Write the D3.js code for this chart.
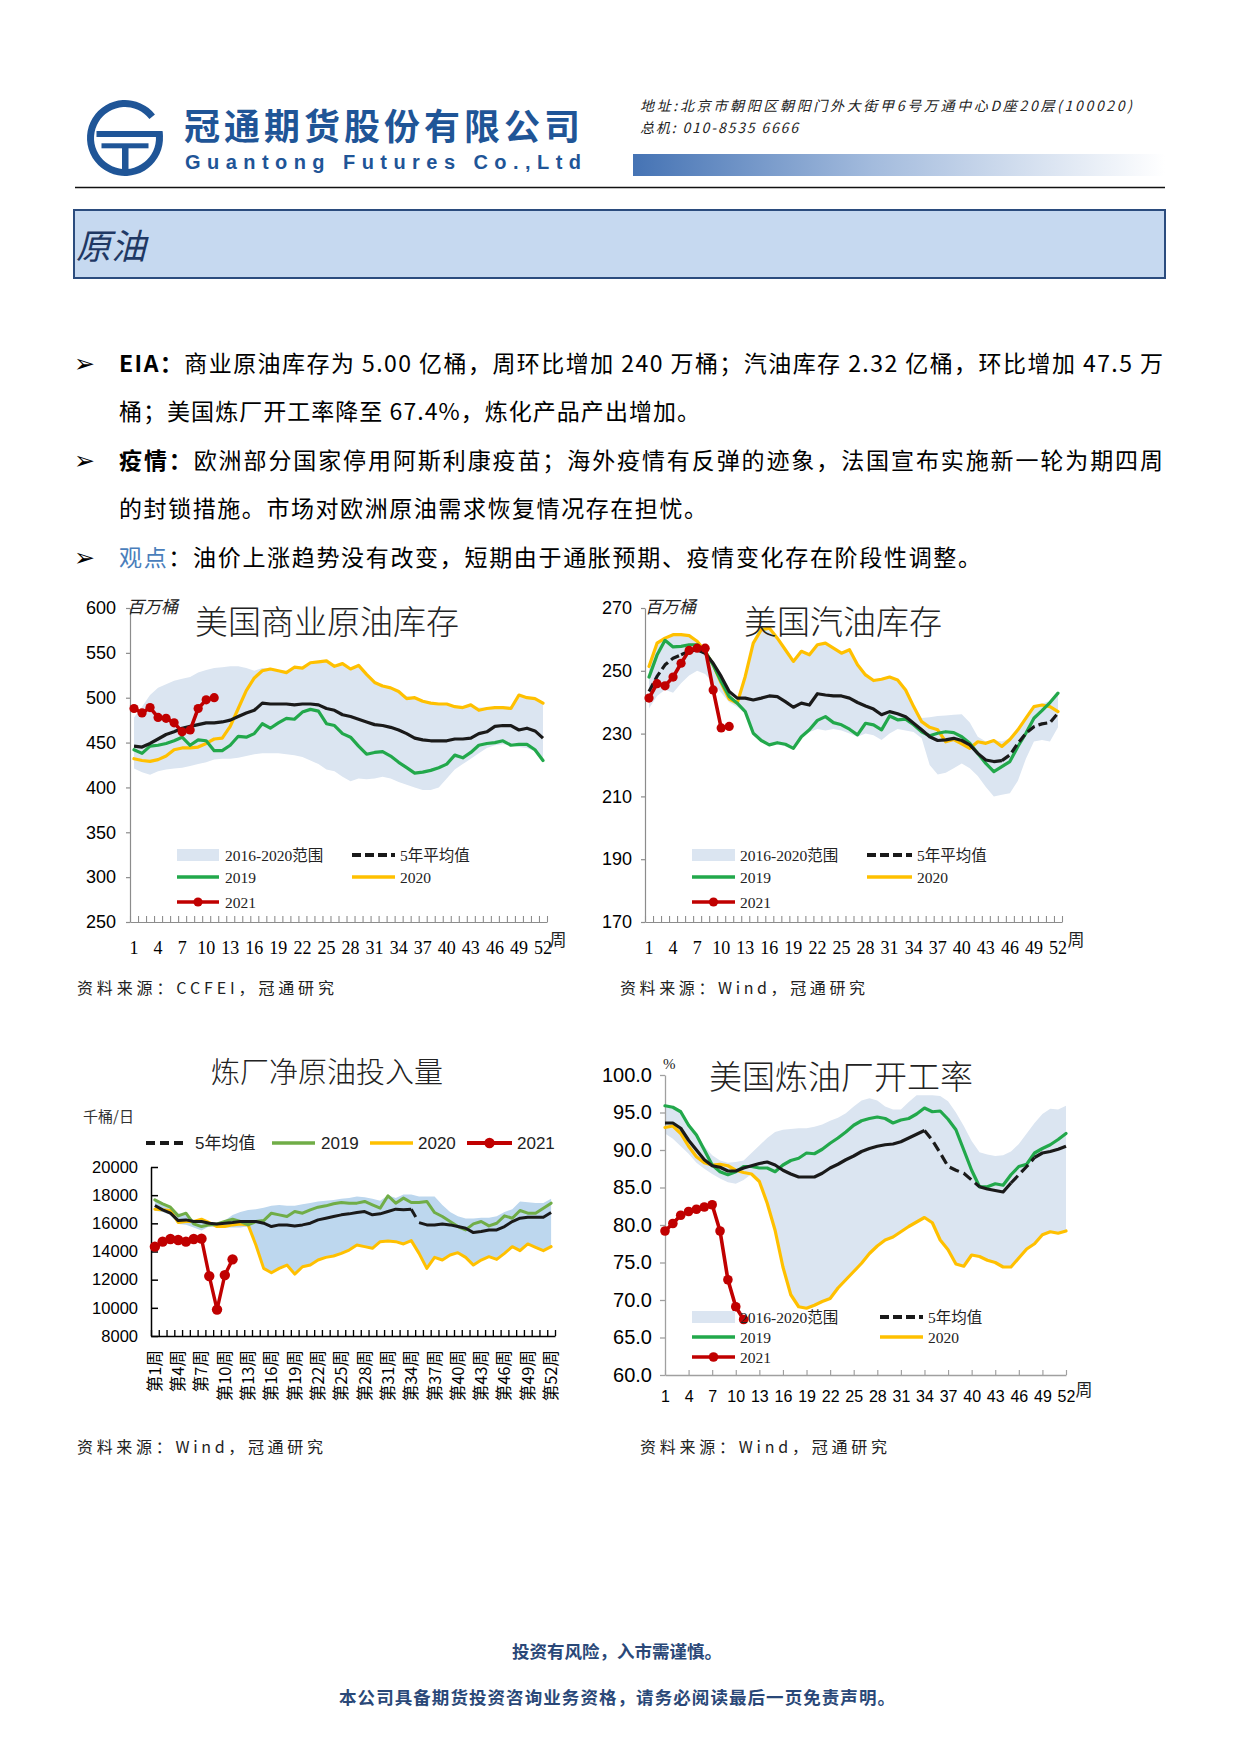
<!DOCTYPE html>
<html><head><meta charset="utf-8">
<script src="https://cdn.jsdelivr.net/npm/d3@7"></script>
<style>body{margin:0;background:#fff}svg{display:block}</style>
</head><body>
<svg id="page" width="1241" height="1754"></svg>
<script>
// ---------------- DATA ----------------
const weeks = [1,2,3,4,5,6,7,8,9,10,11,12,13,14,15,16,17,18,19,20,21,22,23,24,25,26,27,28,29,30,31,32,33,34,35,36,37,38,39,40,41,42,43,44,45,46,47,48,49,50,51,52];
const xTickWeeks = [1,4,7,10,13,16,19,22,25,28,31,34,37,40,43,46,49,52];

// US commercial crude inventory (million bbl)
const crudeYTicks = [250,300,350,400,450,500,550,600];
const crudeHi = [478,490,503,511,515,519,521,523,528,531,533,534,535,535,533,530,533,533,531,530,535,533,539,540,541,536,538,533,536,526,517,514,511,507,502,500,497,495,494,494,491,490,492,489,489,490,490,490,504,501,500,495];
const crudeLo = [421,417,414,418,420,421,422,424,426,428,431,432,432,433,435,437,438,438,438,437,436,434,430,426,420,418,412,407,410,409,410,412,410,406,403,400,397,397,400,410,420,426,432,438,444,447,448,447,445,444,440,428];
const crudeAvg = [446,445,449,454,459,462,466,468,470,472,472,473,475,479,483,486,494,493,493,493,492,493,493,492,488,486,481,479,476,473,470,469,467,464,460,455,453,452,452,452,454,454,455,460,462,468,469,469,464,466,463,455];
const crude2019 = [442,438,446,447,449,452,456,447,453,452,441,441,447,457,456,460,471,466,472,477,476,484,487,485,471,469,460,456,446,437,439,440,435,428,422,416,417,419,422,426,436,433,439,447,449,450,452,447,448,448,442,430];
const crude2020 = [432,430,429,431,435,442,444,444,445,449,454,455,468,488,508,522,530,532,530,528,534,533,539,540,541,535,538,532,536,526,517,513,511,507,499,500,496,494,493,493,490,489,492,486,488,489,489,488,503,500,499,494];
const crude2021 = [488,483,489,478,477,472,462,464,488,497.6,500];

// US gasoline inventory (million bbl)
const gasYTicks = [170,190,210,230,250,270];
const gasHi = [251.5,258.8,260.4,261.5,261.5,261.2,259.4,257.6,252.4,247.1,242,240.5,248.2,258.8,263.1,263.6,260.4,256.7,253,256.2,255.1,258.3,258.8,257.2,255.6,256.7,251.9,248.7,246.9,247.3,248,247.1,243.9,238.6,235,235.2,235.6,235.8,236,236.2,233.5,229,227.5,228,227.5,228.5,231.5,235,238.6,239.5,240.5,243];
const gasLo = [238,242,244,243,246,248.5,250,249,246,243,240,238.5,236.5,230,227.5,226,226.5,226,225,228.5,230.5,231.5,231,231.5,231,230,229,230,229.5,228,230,231.5,231,230.5,228.5,220,217,217.5,219,220.5,219,216.5,213,210,210.5,211,215,222,227.5,228,227.5,232];
const gasAvg = [243.4,248.2,251.9,254,255.1,256.2,256.7,255.6,252.4,248.2,243.4,241.3,241.3,240.7,241.3,242,241.8,240.2,238.4,239.7,239.1,242.7,242.3,242,242,241.3,239.9,238.8,237.8,236,237,236.3,235.4,233.3,231.2,229,227.8,228,228.5,227.8,226.4,223.7,221.6,221.1,221.4,223.2,226.9,230.1,232.2,233.1,233.5,236.5];
const gas2019 = [248,255,259.7,257.6,257.8,258.3,258.3,256.2,251.9,246.6,241.8,239.7,237,230.1,227.8,226.4,227.1,226.6,225.3,229,231.2,234.2,235.4,233.5,232.8,231.4,229.6,233.3,232.8,231.2,235.6,234.4,234.6,232.8,230.6,229.3,230.1,230.6,230.3,229,226.9,223.7,220.5,217.9,219.5,221.1,225.9,230.1,234.9,237.3,239.9,242.9];
const gas2020 = [251.4,258.8,260.4,261.5,261.5,261.2,259.4,256.2,251.9,246.1,241,239.7,248.2,258.8,263.1,263.6,260.4,256.7,253,256.2,255.1,258.3,258.8,257.2,255.6,256.7,251.9,248.7,246.9,247.3,248,247.1,243.9,238.6,233.8,232,231.2,227.4,228.1,226.7,225.3,227.4,226.9,227.8,225.9,228.1,231.2,234.9,238.6,239.1,238.6,237];
const gas2021 = [241.3,245.9,245.2,248,252.4,256.5,257.2,257.2,243.9,231.8,232.3];

// Refinery net crude input (kb/d)
const inputYTicks = [8000,10000,12000,14000,16000,18000,20000];
const inputHi = [17700,17400,17200,16700,16700,16200,16300,16100,16000,16200,16600,16800,16950,17000,17100,17250,17300,17250,17250,17350,17450,17550,17600,17650,17750,17800,17900,17850,17750,17600,18000,17800,18050,18050,17900,17900,17900,17300,16800,16500,16350,16350,16400,16400,16500,16800,17000,17550,17500,17450,17450,17750];
const inputLo = [16900,16800,16600,15950,15900,15700,15500,15800,15700,15700,15700,15700,15800,14463,12800,12490,12800,13037,12395,12918,13037,13394,13584,13679,13869,14106,14463,14344,14225,14700,14748,14700,14534,14772,13869,12800,13584,13394,13750,13916,13584,13037,13394,13631,13441,13869,14344,14059,14534,14296,14059,14344];
const inputAvg = [17267,16958,16720,16198,16245,16126,16126,16008,15960,16008,16055,16126,16126,16126,16008,15770,15889,15889,15817,15889,16008,16245,16364,16483,16602,16673,16768,16839,16602,16673,16839,17006,16958,17006,16050,15889,15889,15960,15889,15770,15651,15342,15414,15532,15532,15770,16126,16364,16435,16435,16435,16768];
const input2019 = [17671,17386,17148,16530,16720,15960,15770,15889,15960,16126,16293,16126,15889,16126,16198,16720,16602,16483,16839,16720,16958,17148,17243,17386,17481,17433,17433,17552,17314,17077,17956,17433,17790,17481,17481,17552,16768,16483,16126,15770,15532,15960,16126,15817,16008,16530,16364,16911,16720,16720,17077,17433];
const input2020 = [17006,16958,16911,16055,16126,16126,16293,16055,15770,15770,15889,15960,15889,14463,12800,12490,12800,13037,12395,12918,13037,13394,13584,13679,13869,14106,14463,14344,14225,14700,14748,14700,14534,14772,13869,12800,13584,13394,13750,13916,13584,13037,13394,13631,13441,13869,14344,14059,14534,14296,14059,14344];
const input2021 = [14344,14700,14890,14819,14700,14890,14914,12253,9876,12324,13441];

// US refinery utilization (%)
const utilYTicks = [60,65,70,75,80,85,90,95,100];
const utilHi = [96,95.8,95.2,93.5,92.2,90.5,89.3,88.6,88.3,88.4,88.6,89.6,90.6,91.6,92.4,92.7,92.8,92.9,92.9,93.1,93.4,93.9,94.3,94.9,95.8,96.6,96.9,96.6,95.8,95.4,95.4,96.4,97.3,97.3,97.3,97.2,96.5,95,93.2,91.2,89.7,89.4,89.2,89.3,89.8,90.8,92.2,93.6,94.8,95.5,95.4,95.9];
const utilLo = [92.2,91.5,90.5,89.5,88.3,87.5,86.8,86.2,85.7,85.5,86.0,86.8,85.8,82.9,79.3,74.4,70.7,69.1,68.9,69.3,69.8,70.2,71.6,72.7,73.8,74.9,76.2,77.2,78.0,78.4,79.1,79.8,80.4,81.0,80.3,78.0,76.7,74.8,74.5,76.0,75.8,75.3,75.0,74.4,74.4,75.6,76.8,77.5,78.7,79.1,78.9,79.2];
const utilAvg = [93.6,93.6,92.9,91.3,90.0,88.7,87.9,87.7,87.2,87.2,87.6,87.9,88.2,88.4,88.0,87.3,86.8,86.4,86.4,86.4,86.9,87.6,88.1,88.7,89.2,89.8,90.2,90.5,90.7,90.8,91.1,91.6,92.1,92.6,91.3,89.6,87.8,87.3,86.9,86.0,85.1,84.8,84.6,84.4,85.6,86.7,87.8,89.0,89.6,89.8,90.1,90.5];
const util2019 = [95.9,95.7,95.1,93.3,92.0,90.0,88.0,87.1,86.7,87.1,87.8,87.8,87.6,87.6,87.1,88.0,88.6,88.9,89.6,89.5,90.1,90.9,91.6,92.4,93.3,93.9,94.2,94.4,94.2,93.6,94.0,94.2,94.8,95.6,95.1,95.2,94.1,92.7,90.0,87.3,85.1,85.1,85.5,85.3,86.7,87.8,88.1,89.6,90.2,90.7,91.4,92.2];
const util2020 = [93.0,93.2,92.2,90.5,89.1,88.3,88.0,88.1,87.9,87.3,87.0,86.8,85.8,82.9,79.3,74.4,70.7,69.1,68.9,69.3,69.8,70.2,71.6,72.7,73.8,74.9,76.2,77.2,78.0,78.4,79.1,79.8,80.4,81.0,80.3,78.0,76.7,74.8,74.5,76.0,75.8,75.3,75.0,74.4,74.4,75.6,76.8,77.5,78.7,79.1,78.9,79.2];
const util2021 = [79.2,80.2,81.3,81.8,82.1,82.4,82.7,79.2,72.7,69.1,67.4];

// Labels
const legendA = ['2016-2020范围','5年平均值','2019','2020','2021'];
const legendB = ['5年均值','2019','2020','2021'];
const legendC = ['2016-2020范围','5年均值','2019','2020','2021'];

// ---------------- DRAWING ----------------
const CJK = "'Noto Sans CJK SC', sans-serif";
const SANS = "'Liberation Sans', Arial, 'Noto Sans CJK SC', sans-serif";
const SERIF = "'Liberation Serif', 'Times New Roman', 'Noto Sans CJK SC', serif";
const svg = d3.select('#page');
svg.append('rect').attr('width',1241).attr('height',1754).attr('fill','#fff');

function T(g, x, y, s, a) {
  const t = g.append('text').attr('x', x).attr('y', y).text(s);
  if (a) for (const k in a) t.attr(k, a[k]);
  return t;
}

// ----- header -----
const hd = svg.append('g');
const logo = hd.append('g').attr('transform','translate(125,138)').attr('fill','#1f5597');
logo.append('path').attr('d', d3.arc().innerRadius(31).outerRadius(38).startAngle(80*Math.PI/180).endAngle((360+52)*Math.PI/180)());
logo.append('rect').attr('x',-28.5).attr('y',-7).attr('width',66).attr('height',6);
logo.append('rect').attr('x',-23.5).attr('y',5.3).attr('width',47).attr('height',5);
logo.append('rect').attr('x',-3).attr('y',10).attr('width',6.5).attr('height',22);

T(hd,184,140,'冠通期货股份有限公司',{'font-family':CJK,'font-weight':700,'font-size':36,fill:'#1f5597',textLength:396,lengthAdjust:'spacing'});
T(hd,185,169,'Guantong Futures Co.,Ltd',{'font-family':SANS,'font-weight':700,'font-size':20,fill:'#1f5597',textLength:396,lengthAdjust:'spacing'});
T(hd,640,111,'地址:北京市朝阳区朝阳门外大街甲6号万通中心D座20层(100020)',{'font-family':CJK,'font-style':'italic','font-size':14,fill:'#222',textLength:492,lengthAdjust:'spacing'});
T(hd,640,133,'总机: 010-8535 6666',{'font-family':CJK,'font-style':'italic','font-size':14,fill:'#222',textLength:158,lengthAdjust:'spacing'});

const defs = svg.append('defs');
const grad = defs.append('linearGradient').attr('id','hgrad').attr('x1','0').attr('x2','1').attr('y1','0').attr('y2','0');
grad.append('stop').attr('offset','0%').attr('stop-color','#4573b4');
grad.append('stop').attr('offset','45%').attr('stop-color','#a3bbdd');
grad.append('stop').attr('offset','100%').attr('stop-color','#ffffff');
hd.append('rect').attr('x',633).attr('y',154).attr('width',532).attr('height',22).attr('fill','url(#hgrad)');
hd.append('line').attr('x1',75).attr('x2',1165).attr('y1',187.5).attr('y2',187.5).attr('stroke','#111').attr('stroke-width',1.6);

hd.append('rect').attr('x',74).attr('y',210).attr('width',1091).attr('height',68).attr('fill','#c6d9f0').attr('stroke','#2b4c7e').attr('stroke-width',2);
T(hd,76,259,'原油',{'font-family':CJK,'font-style':'italic','font-size':35,fill:'#1f3864'});

// ----- body text -----
const bt = svg.append('g').attr('font-family', CJK).attr('font-size', 23).attr('fill', '#000');
const lines = [
  {y:364, bullet:true, len:1044, parts:[['EIA：',700,'#000'],['商业原油库存为 5.00 亿桶，周环比增加 240 万桶；汽油库存 2.32 亿桶，环比增加 47.5 万',400,'#000']]},
  {y:412, bullet:false, len:581, parts:[['桶；美国炼厂开工率降至 67.4%，炼化产品产出增加。',400,'#000']]},
  {y:461, bullet:true, len:1044, parts:[['疫情：',700,'#000'],['欧洲部分国家停用阿斯利康疫苗；海外疫情有反弹的迹象，法国宣布实施新一轮为期四周',400,'#000']]},
  {y:509, bullet:false, len:588, parts:[['的封锁措施。市场对欧洲原油需求恢复情况存在担忧。',400,'#000']]},
  {y:558, bullet:true, len:862, parts:[['观点',400,'#4a7ebb'],['：油价上涨趋势没有改变，短期由于通胀预期、疫情变化存在阶段性调整。',400,'#000']]}
];
lines.forEach(l => {
  if (l.bullet) T(bt, 74, l.y + 8, '➢', {'font-family':"'DejaVu Sans', sans-serif",'font-size':25});
  const t = bt.append('text').attr('x',119).attr('y',l.y + 8).attr('textLength',l.len).attr('lengthAdjust','spacing');
  l.parts.forEach(p => t.append('tspan').attr('font-weight',p[1]).attr('fill',p[2]).text(p[0]));
});

// ----- chart helper -----
function drawChart(o) {
  const g = svg.append('g');
  let xc, xLabelScale;
  if (o.mode === 'band') {
    const b = d3.scaleBand().domain(weeks).range([o.ax0, o.ax1]);
    xc = w => b(w) + b.bandwidth() / 2;
    xLabelScale = b;
  } else {
    const l = d3.scaleLinear().domain([1, 52]).range([o.ax0, o.ax1]);
    xc = w => l(w);
    xLabelScale = l;
  }
  const y = d3.scaleLinear().domain(o.yDomain).range([o.yBot, o.yTop]);

  // range band
  g.append('path').datum(o.hi)
    .attr('d', d3.area().x((d, i) => xc(weeks[i])).y0((d, i) => y(o.lo[i])).y1(d => y(d)))
    .attr('fill', o.bandColor);

  // y axis
  const ya = g.append('g').attr('transform', `translate(${o.ax0},0)`)
    .call(d3.axisLeft(y).tickValues(o.yTicks).tickSize(o.yTickSize).tickSizeOuter(0).tickPadding(o.yPad).tickFormat(o.yFmt));
  ya.select('.domain').attr('stroke', o.axisColor).attr('stroke-width', o.axisW);
  ya.selectAll('.tick line').attr('stroke', o.axisColor).attr('stroke-width', o.axisW);
  ya.selectAll('.tick text').attr('font-family', o.yFont).attr('font-size', o.yFontSize).attr('fill', '#000');

  // x axis ticks
  let tickScale, tickVals;
  if (o.mode === 'band') { tickScale = d3.scaleLinear().domain([0, 52]).range([o.ax0, o.ax1]); tickVals = d3.range(0, 53); }
  else { tickScale = xLabelScale; tickVals = xTickWeeks; }
  const xa = g.append('g').attr('transform', `translate(0,${o.yBot})`)
    .call(d3.axisBottom(tickScale).tickValues(tickVals).tickSize(-o.xTickLen).tickSizeOuter(0).tickFormat(''));
  xa.select('.domain').attr('stroke', o.axisColor).attr('stroke-width', o.axisW);
  xa.selectAll('.tick line').attr('stroke', o.axisColor).attr('stroke-width', o.axisW * 0.9);

  // x labels
  const xl = g.append('g').attr('transform', `translate(0,${o.yBot})`)
    .call(d3.axisBottom(xLabelScale).tickValues(xTickWeeks).tickSize(0).tickPadding(o.xPad).tickFormat(o.xFmt));
  xl.select('.domain').remove();
  xl.selectAll('text').attr('font-family', o.xFont).attr('font-size', o.xFontSize).attr('fill', '#000');
  if (o.rotateX) {
    xl.selectAll('text').attr('transform', 'rotate(-90)').attr('text-anchor', 'end')
      .attr('x', -o.xPad).attr('y', 0).attr('dy', '0.36em');
  }

  // series
  const lg = d3.line().x((d, i) => xc(weeks[i])).y(d => y(d));
  const stroke = (p, c, w) => p.attr('fill', 'none').attr('stroke', c).attr('stroke-width', w)
    .attr('stroke-linejoin', 'round').attr('stroke-linecap', 'round');
  stroke(g.append('path').datum(o.s2020).attr('d', lg), o.cYellow, o.lw);
  stroke(g.append('path').datum(o.s2019).attr('d', lg), o.cGreen, o.lw);

  // 5-year average with dashed stretches
  const isDash = (a, b) => (o.avgDash || []).some(r => a >= r[0] && b <= r[1]);
  const runs = []; let cur = null;
  for (let i = 0; i < o.avg.length - 1; i++) {
    const t = isDash(weeks[i], weeks[i + 1]);
    if (!cur || cur.t !== t) { cur = { t, pts: [[weeks[i], o.avg[i]]] }; runs.push(cur); }
    cur.pts.push([weeks[i + 1], o.avg[i + 1]]);
  }
  const pl = d3.line().x(p => xc(p[0])).y(p => y(p[1]));
  runs.forEach(r => {
    const p = g.append('path').datum(r.pts).attr('d', pl).attr('fill', 'none').attr('stroke', '#1a1a1a')
      .attr('stroke-width', o.lw).attr('stroke-linejoin', 'round');
    if (r.t) p.attr('stroke-dasharray', o.dashArr);
  });

  // 2021 with markers
  stroke(g.append('path').datum(o.s2021).attr('d', lg), o.cRed, o.lw + 0.4);
  g.selectAll(null).data(o.s2021).enter().append('circle')
    .attr('cx', (d, i) => xc(weeks[i])).attr('cy', d => y(d)).attr('r', o.mr).attr('fill', o.cRed);

  return g;
}

function legendItem(g, it) {
  if (it.kind === 'band') {
    g.append('rect').attr('x', it.x0).attr('y', it.y - 6).attr('width', it.x1 - it.x0).attr('height', 12).attr('fill', it.color);
  } else {
    const l = g.append('line').attr('x1', it.x0).attr('x2', it.x1).attr('y1', it.y).attr('y2', it.y)
      .attr('stroke', it.color).attr('stroke-width', it.w);
    if (it.dash) l.attr('stroke-dasharray', it.dash);
    if (it.marker) g.append('circle').attr('cx', (it.x0 + it.x1) / 2).attr('cy', it.y).attr('r', it.marker).attr('fill', it.color);
  }
  T(g, it.tx, it.y, it.label, { dy: '0.36em', 'font-family': it.font, 'font-size': it.fs, fill: '#222' });
}

const GREEN = '#22a84b', YELLOW = '#ffc000', RED = '#c00000', BAND = '#dbe5f1';

// ----- Chart 1: crude inventory -----
const c1 = drawChart({
  mode: 'band', ax0: 130, ax1: 547, yTop: 608, yBot: 922, yDomain: [250, 600], yTicks: crudeYTicks,
  yTickSize: 4, yPad: 10, yFmt: d => d, yFont: SANS, yFontSize: 18,
  xTickLen: 6, xPad: 19, xFmt: d => d, xFont: SERIF, xFontSize: 18,
  axisColor: '#8c8c8c', axisW: 1.2,
  hi: crudeHi, lo: crudeLo, avg: crudeAvg, s2019: crude2019, s2020: crude2020, s2021: crude2021,
  bandColor: BAND, cGreen: GREEN, cYellow: YELLOW, cRed: RED, lw: 3.2, mr: 4.6, dashArr: '9,4'
});
T(c1, 327, 622, '美国商业原油库存', { dy: '0.36em', 'text-anchor': 'middle', 'font-family': CJK, 'font-weight': 300, 'font-size': 33, fill: '#222' });
T(c1, 127, 607, '百万桶', { dy: '0.36em', 'font-family': CJK, 'font-style': 'italic', 'font-size': 17, fill: '#222' });
T(c1, 558, 940, '周', { dy: '0.36em', 'text-anchor': 'middle', 'font-family': CJK, 'font-size': 17, fill: '#222' });
[
  { kind: 'band', x0: 177, x1: 219, y: 855, color: BAND, tx: 225, label: legendA[0] },
  { kind: 'line', x0: 352, x1: 395, y: 855, color: '#1a1a1a', w: 4, dash: '9,4', tx: 400, label: legendA[1] },
  { kind: 'line', x0: 177, x1: 219, y: 877, color: GREEN, w: 3.5, tx: 225, label: legendA[2] },
  { kind: 'line', x0: 352, x1: 395, y: 877, color: YELLOW, w: 3.5, tx: 400, label: legendA[3] },
  { kind: 'line', x0: 177, x1: 219, y: 902, color: RED, w: 3.5, marker: 4.6, tx: 225, label: legendA[4] }
].forEach(it => legendItem(c1, Object.assign({ font: SERIF, fs: 15.5 }, it)));
T(c1, 77, 988, '资料来源：CCFEI，冠通研究', { dy: '0.36em', 'font-family': CJK, 'font-size': 16, fill: '#222', textLength: 257, lengthAdjust: 'spacing' });

// ----- Chart 2: gasoline inventory -----
const c2 = drawChart({
  mode: 'band', ax0: 645, ax1: 1062, yTop: 608, yBot: 922, yDomain: [170, 270], yTicks: gasYTicks,
  yTickSize: 4, yPad: 9, yFmt: d => d, yFont: SANS, yFontSize: 18,
  xTickLen: 6, xPad: 19, xFmt: d => d, xFont: SERIF, xFontSize: 18,
  axisColor: '#8c8c8c', axisW: 1.2,
  hi: gasHi, lo: gasLo, avg: gasAvg, s2019: gas2019, s2020: gas2020, s2021: gas2021,
  avgDash: [[1, 5], [45, 52]],
  bandColor: BAND, cGreen: GREEN, cYellow: YELLOW, cRed: RED, lw: 3.2, mr: 4.6, dashArr: '9,4'
});
T(c2, 843, 622, '美国汽油库存', { dy: '0.36em', 'text-anchor': 'middle', 'font-family': CJK, 'font-weight': 300, 'font-size': 33, fill: '#222' });
T(c2, 645, 607, '百万桶', { dy: '0.36em', 'font-family': CJK, 'font-style': 'italic', 'font-size': 17, fill: '#222' });
T(c2, 1076, 940, '周', { dy: '0.36em', 'text-anchor': 'middle', 'font-family': CJK, 'font-size': 17, fill: '#222' });
[
  { kind: 'band', x0: 692, x1: 735, y: 855, color: BAND, tx: 740, label: legendA[0] },
  { kind: 'line', x0: 867, x1: 912, y: 855, color: '#1a1a1a', w: 4, dash: '9,4', tx: 917, label: legendA[1] },
  { kind: 'line', x0: 692, x1: 735, y: 877, color: GREEN, w: 3.5, tx: 740, label: legendA[2] },
  { kind: 'line', x0: 867, x1: 912, y: 877, color: YELLOW, w: 3.5, tx: 917, label: legendA[3] },
  { kind: 'line', x0: 692, x1: 735, y: 902, color: RED, w: 3.5, marker: 4.6, tx: 740, label: legendA[4] }
].forEach(it => legendItem(c2, Object.assign({ font: SERIF, fs: 15.5 }, it)));
T(c2, 620, 988, '资料来源：Wind，冠通研究', { dy: '0.36em', 'font-family': CJK, 'font-size': 16, fill: '#222', textLength: 245, lengthAdjust: 'spacing' });

// ----- Chart 3: refinery net input -----
const c3 = drawChart({
  mode: 'band', ax0: 151, ax1: 555, yTop: 1167, yBot: 1336, yDomain: [8000, 20000], yTicks: inputYTicks,
  yTickSize: -7, yPad: 13, yFmt: d => d, yFont: SANS, yFontSize: 16.5,
  xTickLen: 6, xPad: 14, xFmt: d => '第' + d + '周', xFont: CJK, xFontSize: 16.5, rotateX: true,
  axisColor: '#000', axisW: 1.5,
  hi: inputHi, lo: inputLo, avg: inputAvg, s2019: input2019, s2020: input2020, s2021: input2021,
  avgDash: [[34, 35]],
  bandColor: '#bdd7ee', cGreen: '#70ad47', cYellow: YELLOW, cRed: RED, lw: 3, mr: 5.2, dashArr: '9,7'
});
T(c3, 327, 1073, '炼厂净原油投入量', { dy: '0.36em', 'text-anchor': 'middle', 'font-family': CJK, 'font-weight': 300, 'font-size': 29, fill: '#222' });
T(c3, 83, 1117, '千桶/日', { dy: '0.36em', 'font-family': CJK, 'font-size': 15, fill: '#333' });
[
  { kind: 'line', x0: 146, x1: 185, y: 1143, color: '#1a1a1a', w: 4, dash: '9,5', tx: 195, label: legendB[0] },
  { kind: 'line', x0: 272, x1: 315, y: 1143, color: '#70ad47', w: 3.5, tx: 321, label: legendB[1] },
  { kind: 'line', x0: 370, x1: 413, y: 1143, color: YELLOW, w: 3.5, tx: 418, label: legendB[2] },
  { kind: 'line', x0: 467, x1: 512, y: 1143, color: RED, w: 4, marker: 5.2, tx: 517, label: legendB[3] }
].forEach(it => legendItem(c3, Object.assign({ font: SANS, fs: 17 }, it)));
T(c3, 77, 1447, '资料来源：Wind，冠通研究', { dy: '0.36em', 'font-family': CJK, 'font-size': 16, fill: '#222', textLength: 246, lengthAdjust: 'spacing' });

// ----- Chart 4: refinery utilization -----
const c4 = drawChart({
  mode: 'linear', ax0: 665, ax1: 1066, yTop: 1075, yBot: 1375, yDomain: [60, 100], yTicks: utilYTicks,
  yTickSize: 5, yPad: 8, yFmt: d3.format('.1f'), yFont: SANS, yFontSize: 20,
  xTickLen: 5, xPad: 16, xFmt: d => d, xFont: SANS, xFontSize: 16,
  axisColor: '#a0a0a0', axisW: 1.3,
  hi: utilHi, lo: utilLo, avg: utilAvg, s2019: util2019, s2020: util2020, s2021: util2021,
  avgDash: [[34, 41], [45, 48]],
  bandColor: BAND, cGreen: GREEN, cYellow: YELLOW, cRed: RED, lw: 3.2, mr: 4.8, dashArr: '10,5'
});
T(c4, 841, 1077, '美国炼油厂开工率', { dy: '0.36em', 'text-anchor': 'middle', 'font-family': CJK, 'font-weight': 300, 'font-size': 33, fill: '#222' });
T(c4, 663, 1064, '%', { dy: '0.36em', 'font-family': SERIF, 'font-size': 15, fill: '#222' });
T(c4, 1084, 1390, '周', { dy: '0.36em', 'text-anchor': 'middle', 'font-family': CJK, 'font-size': 17, fill: '#222' });
[
  { kind: 'band', x0: 692, x1: 735, y: 1317, color: BAND, tx: 740, label: legendC[0] },
  { kind: 'line', x0: 880, x1: 923, y: 1317, color: '#1a1a1a', w: 4, dash: '9,4', tx: 928, label: legendC[1] },
  { kind: 'line', x0: 692, x1: 735, y: 1337, color: GREEN, w: 3.5, tx: 740, label: legendC[2] },
  { kind: 'line', x0: 880, x1: 923, y: 1337, color: YELLOW, w: 3.5, tx: 928, label: legendC[3] },
  { kind: 'line', x0: 692, x1: 735, y: 1357, color: RED, w: 3.5, marker: 4.8, tx: 740, label: legendC[4] }
].forEach(it => legendItem(c4, Object.assign({ font: SERIF, fs: 15.5 }, it)));
T(c4, 640, 1447, '资料来源：Wind，冠通研究', { dy: '0.36em', 'font-family': CJK, 'font-size': 16, fill: '#222', textLength: 247, lengthAdjust: 'spacing' });

// ----- footer -----
const ft = svg.append('g').attr('font-family', CJK).attr('font-weight', 700).attr('fill', '#2a4878').attr('text-anchor', 'middle');
T(ft, 617, 1652, '投资有风险，入市需谨慎。', { dy: '0.36em', 'font-size': 17.5 });
T(ft, 617, 1698, '本公司具备期货投资咨询业务资格，请务必阅读最后一页免责声明。', { dy: '0.36em', 'font-size': 17.5, textLength: 556, lengthAdjust: 'spacing' });
</script>
</body></html>
